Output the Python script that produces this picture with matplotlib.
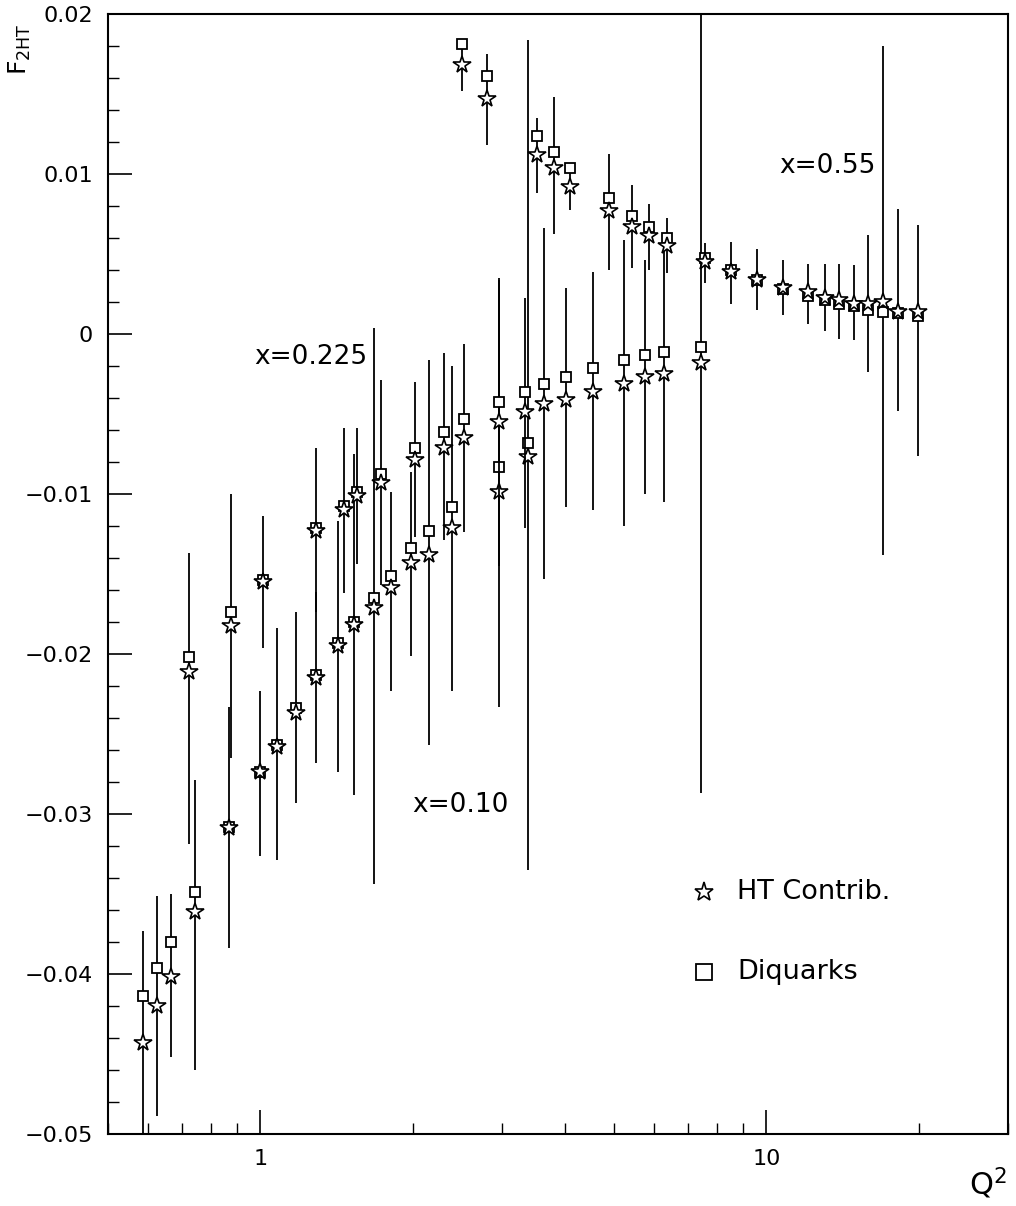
import matplotlib
matplotlib.use("Agg")
import matplotlib.pyplot as plt
from matplotlib.ticker import FixedLocator, FuncFormatter, LogLocator, NullFormatter

plt.rcParams['font.family'] = ['DejaVu Sans']

# x = 0.55
q2_55 = [2.50, 2.80, 3.52, 3.80, 4.09, 4.88, 5.42, 5.85, 6.35, 7.55, 8.49, 9.56,
         10.8, 12.1, 13.07, 13.93, 14.92, 15.9, 17.02, 18.21, 19.94]
ht_55 = [0.0168, 0.0147, 0.0112, 0.0104, 0.0092, 0.0077, 0.0067, 0.0061, 0.0055, 0.0045, 0.0039, 0.0034,
         0.0029, 0.0026, 0.00225, 0.0021, 0.0019, 0.0019, 0.0020, 0.0014, 0.0014]
dq_55 = [0.0181, 0.0161, 0.0124, 0.0114, 0.0104, 0.0085, 0.0074, 0.0067, 0.0060, 0.00475, 0.0040, 0.0034,
         0.0028, 0.0024, 0.0021, 0.0019, 0.00175, 0.0015, 0.0014, 0.0013, 0.0011]
hi_55 = [0.0184, 0.0175, 0.0135, 0.0148, 0.0107, 0.01125, 0.0093, 0.0081, 0.00725, 0.0057, 0.00575, 0.0053,
         0.0046, 0.0044, 0.0044, 0.0044, 0.0043, 0.0062, 0.0180, 0.0078, 0.0068]
lo_55 = [0.0152, 0.0118, 0.0088, 0.00625, 0.00775, 0.0040, 0.0041, 0.0040, 0.0038, 0.0032, 0.0019, 0.0015,
         0.0012, 0.0006, 0.0002, -0.0003, -0.0004, -0.0024, -0.0138, -0.0048, -0.0076]

# x = 0.225
q2_225 = [0.724, 0.873, 1.014, 1.29, 1.464, 1.554, 1.733, 2.022, 2.307, 2.526, 2.961, 3.332,
          3.633, 4.015, 4.538, 5.224, 5.745, 6.264, 7.411]
ht_225 = [-0.0211, -0.01825, -0.0155, -0.0123, -0.0110, -0.0101, -0.0093, -0.0079, -0.0071, -0.0065, -0.0055, -0.0049,
          -0.0044, -0.0041, -0.0036, -0.0031, -0.0027, -0.0025, -0.0018]
dq_225 = [-0.0202, -0.0174, -0.01535, -0.0121, -0.01075, -0.0099, -0.00875, -0.0071, -0.0061, -0.0053, -0.00425, -0.0036,
          -0.0031, -0.0027, -0.0021, -0.0016, -0.0013, -0.0011, -0.0008]
hi_225 = [-0.0137, -0.0100, -0.0114, -0.0071, -0.0059, -0.0059, -0.0029, -0.0030, -0.0012, -0.0006, 0.0035, 0.00225,
          0.0066, 0.0029, 0.0039, 0.0059, 0.0046, 0.0055, 0.0210]
lo_225 = [-0.0319, -0.0265, -0.0196, -0.0174, -0.0162, -0.0144, -0.0157, -0.0127, -0.0129, -0.0124, -0.0145, -0.0121,
          -0.0153, -0.0108, -0.0110, -0.0120, -0.0100, -0.0105, -0.0287]

# x = 0.10
q2_10 = [0.585, 0.626, 0.665, 0.744, 0.869, 1.0, 1.08, 1.178, 1.29, 1.425, 1.532, 1.679,
         1.813, 1.986, 2.154, 2.391, 2.961, 3.378]
ht_10 = [-0.0443, -0.0420, -0.0402, -0.0361, -0.0309, -0.0274, -0.0258, -0.0237, -0.0215, -0.0195, -0.0182, -0.0171,
         -0.0159, -0.0143, -0.0138, -0.0121, -0.0099, -0.0077]
dq_10 = [-0.0414, -0.0396, -0.0380, -0.0349, -0.0308, -0.0274, -0.0257, -0.0234, -0.0213, -0.0193, -0.0180, -0.0165,
         -0.0151, -0.0134, -0.0123, -0.0108, -0.0083, -0.0068]
hi_10 = [-0.0373, -0.0351, -0.0350, -0.0279, -0.0233, -0.0223, -0.0184, -0.0174, -0.0161, -0.0117, -0.0075, 0.0004,
         -0.0099, -0.0086, -0.0016, -0.0020, 0.0034, 0.0184]
lo_10 = [-0.0520, -0.0489, -0.0452, -0.0460, -0.0384, -0.0326, -0.0329, -0.0293, -0.0268, -0.0274, -0.0288, -0.0344,
         -0.0223, -0.0201, -0.0257, -0.0223, -0.0233, -0.0335]

groups = [
    (q2_10, ht_10, dq_10, hi_10, lo_10),
    (q2_225, ht_225, dq_225, hi_225, lo_225),
    (q2_55, ht_55, dq_55, hi_55, lo_55),
]

fig = plt.figure(figsize=(10.16, 12.06), dpi=100)
ax = fig.add_axes([0.1063, 0.0597, 0.8858, 0.9287])

for q2, ht, dq, hi, lo in groups:
    ax.vlines(q2, lo, hi, color='black', lw=1.3)
    ax.plot(q2, dq, ls='none', marker='s', ms=7.5, mfc='white', mec='black', mew=1.3)
    ax.plot(q2, ht, ls='none', marker='*', ms=13, mfc='white', mec='black', mew=1.2)

ax.set_xscale('log')
ax.set_xlim(0.5, 30)
ax.set_ylim(-0.05, 0.02)

ax.xaxis.set_major_locator(FixedLocator([1, 10]))
ax.xaxis.set_major_formatter(FuncFormatter(lambda v, p: '%d' % v))
ax.xaxis.set_minor_locator(LogLocator(base=10, subs=range(2, 10), numticks=20))
ax.xaxis.set_minor_formatter(NullFormatter())

yticks = [-0.05, -0.04, -0.03, -0.02, -0.01, 0, 0.01, 0.02]
ax.yaxis.set_major_locator(FixedLocator(yticks))
ax.yaxis.set_minor_locator(FixedLocator([v / 1000 for v in range(-50, 21, 2)]))
ax.yaxis.set_major_formatter(FuncFormatter(
    lambda v, p: '0' if abs(v) < 1e-9 else ('%.2f' % v).replace('-', '\u2212')))

ax.tick_params(which='major', direction='in', length=17, width=1.2, labelsize=16, pad=11)
ax.tick_params(which='minor', direction='in', length=8, width=1.0)
ax.tick_params(top=False, right=False, which='both')
for s in ax.spines.values():
    s.set_linewidth(1.5)

ax.text(0.2256, 0.694, 'x=0.225', transform=ax.transAxes, ha='center', va='center', fontsize=19)
ax.text(0.392, 0.294, 'x=0.10', transform=ax.transAxes, ha='center', va='center', fontsize=19)
ax.text(0.799, 0.864, 'x=0.55', transform=ax.transAxes, ha='center', va='center', fontsize=19)

# legend drawn by hand
ax.plot([0.662], [0.2161], transform=ax.transAxes, ls='none', marker='*', ms=14,
        mfc='white', mec='black', mew=1.2)
ax.text(0.699, 0.2161, 'HT Contrib.', transform=ax.transAxes, va='center', fontsize=19.5)
ax.plot([0.662], [0.1446], transform=ax.transAxes, ls='none', marker='s', ms=11,
        mfc='white', mec='black', mew=1.3)
ax.text(0.699, 0.1446, 'Diquarks', transform=ax.transAxes, va='center', fontsize=19.5)

fig.text(0.02, 0.959, r'F$_{\rm 2HT}$', rotation=90, ha='center', va='center', fontsize=18)
fig.text(0.972, 0.019, r'Q$^2$', ha='center', va='center', fontsize=22)

fig.savefig('out.png', dpi=100)
